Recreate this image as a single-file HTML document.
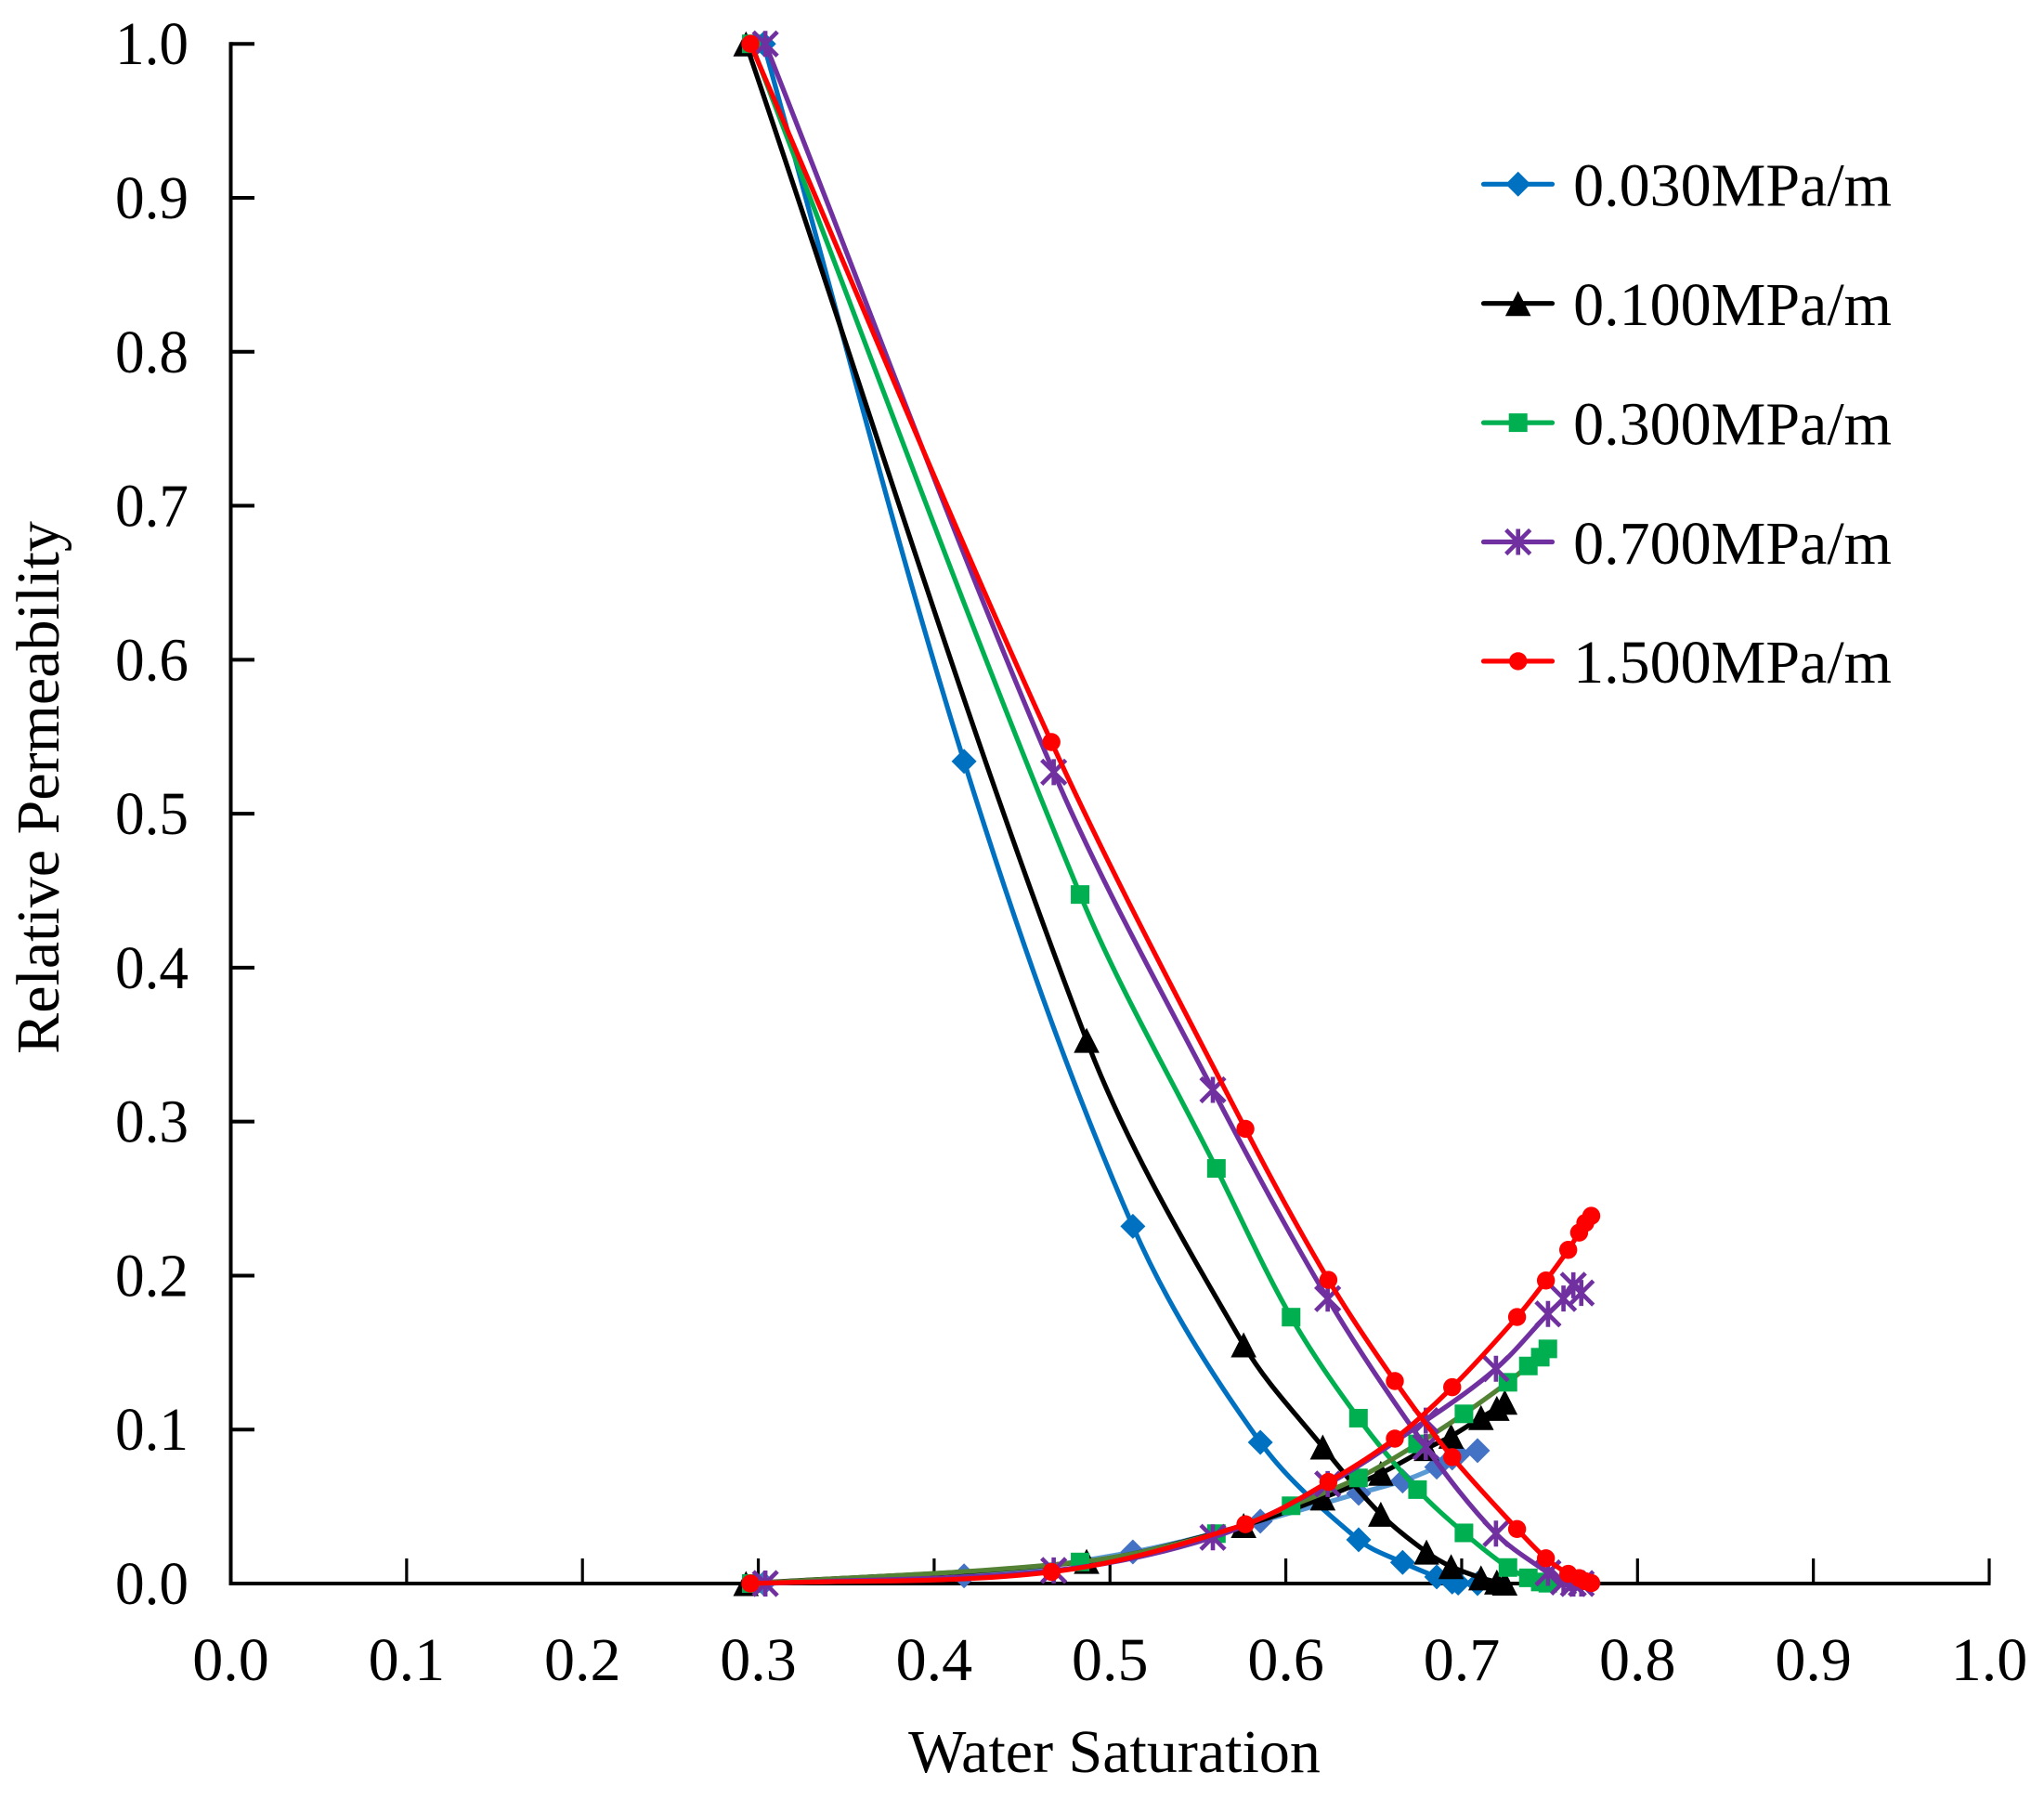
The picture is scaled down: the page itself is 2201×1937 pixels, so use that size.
<!DOCTYPE html>
<html lang="en">
<head>
<meta charset="utf-8">
<title>Relative Permeability vs Water Saturation</title>
<style>
html,body{margin:0;padding:0;background:#fff;}
svg{display:block;}
text{font-family:"Liberation Serif",serif;font-size:66px;fill:#000;}
</style>
</head>
<body>
<svg id="chart" xmlns="http://www.w3.org/2000/svg" width="2201" height="1937" viewBox="0 0 2201 1937">
<rect x="0" y="0" width="2201" height="1937" fill="#ffffff"/>
<g id="axes"></g>
<g id="series"></g>
<g id="legend"></g>
<text x="1200" y="1908" text-anchor="middle">Water Saturation</text>
<text x="63" y="848" text-anchor="middle" transform="rotate(-90 63 848)">Relative Permeability</text>
</svg>
<script>
// Axis ticks
const xTickLabels = ['0.0','0.1','0.2','0.3','0.4','0.5','0.6','0.7','0.8','0.9','1.0'];
const yTickLabels = ['0.0','0.1','0.2','0.3','0.4','0.5','0.6','0.7','0.8','0.9','1.0'];

// 0.030 MPa/m
const swBlue = [0.303,0.417,0.513,0.5855,0.6414,0.6664,0.6858,0.6946,0.698,0.709];
const oilBlue = [1.0,0.534,0.232,0.0917,0.0284,0.0137,0.0043,0.001,0.0003,0.0];
const waterBlue = [0.0,0.005,0.0205,0.0405,0.0586,0.0666,0.0756,0.0815,0.0837,0.0863];

// 0.100 MPa/m
const swBlack = [0.293,0.4867,0.576,0.621,0.654,0.68,0.694,0.711,0.72,0.7245];
const oilBlack = [1.0,0.3528,0.155,0.0887,0.045,0.0204,0.011,0.0037,0.001,0.0003];
const waterBlack = [0.0,0.0144,0.0377,0.0556,0.0716,0.0877,0.0957,0.1078,0.1138,0.1178];

// 0.300 MPa/m
const swGreen = [0.296,0.483,0.5605,0.603,0.6413,0.6749,0.7013,0.7263,0.7379,0.7447,0.749];
const oilGreen = [1.0,0.4475,0.2696,0.173,0.1074,0.061,0.0329,0.0104,0.0037,0.001,0.0002];
const waterGreen = [0.0,0.014,0.0324,0.0505,0.0686,0.0907,0.1102,0.1307,0.1413,0.147,0.1524];

// 0.700 MPa/m
const swPurple = [0.304,0.468,0.5585,0.6238,0.6796,0.7195,0.7491,0.7579,0.7635,0.768];
const oilPurple = [1.0,0.527,0.3206,0.185,0.0887,0.0324,0.0069,0.001,0.0,0.0];
const waterPurple = [0.0,0.0085,0.03,0.0646,0.1058,0.1395,0.1751,0.1851,0.1937,0.1887];

// 1.500 MPa/m
const swRed = [0.2955,0.4667,0.577,0.6242,0.662,0.6946,0.7315,0.7479,0.7606,0.7668,0.7703,0.7737];
const oilRed = [1.0,0.5465,0.2953,0.1972,0.1315,0.0821,0.0354,0.0164,0.0063,0.0035,0.0015,0.0003];
const waterRed = [0.0,0.0075,0.0385,0.066,0.0941,0.1275,0.1731,0.1968,0.2167,0.2279,0.2342,0.2388];

const legendLabels = ['0.030MPa/m','0.100MPa/m','0.300MPa/m','0.700MPa/m','1.500MPa/m'];

const NS = 'http://www.w3.org/2000/svg';
const X0 = 248.5, X1 = 2142, Y0 = 1705, Y1 = 47.2;
function xScale(v){ return X0 + v * (X1 - X0); }
function yScale(v){ return Y0 - v * (Y0 - Y1); }

function make(tag, parent, name, attrs){
  const el = document.createElementNS(NS, tag);
  
  
  for (const k in attrs) el.setAttribute(k, attrs[k]);
  parent.appendChild(el);
  return el;
}

function tangent(a, b){
  const dx = b[0] - a[0], dy = b[1] - a[1];
  const len = Math.hypot(dx, dy) || 1;
  return [dx / len, dy / len];
}

function smoothPath(pts){
  let d = 'M' + pts[0][0].toFixed(2) + ' ' + pts[0][1].toFixed(2);
  for (let i = 0; i < pts.length - 1; i++){
    const p0 = pts[Math.max(i - 1, 0)], p1 = pts[i], p2 = pts[i + 1], p3 = pts[Math.min(i + 2, pts.length - 1)];
    const seg = Math.hypot(p2[0] - p1[0], p2[1] - p1[1]) / 3;
    const t1 = tangent(p0, p2), t2 = tangent(p1, p3);
    const c1x = p1[0] + t1[0] * seg, c1y = p1[1] + t1[1] * seg;
    const c2x = p2[0] - t2[0] * seg, c2y = p2[1] - t2[1] * seg;
    d += 'C' + c1x.toFixed(2) + ' ' + c1y.toFixed(2) + ' ' + c2x.toFixed(2) + ' ' + c2y.toFixed(2) + ' ' + p2[0].toFixed(2) + ' ' + p2[1].toFixed(2);
  }
  return d;
}

function marker(parent, kind, x, y, color, name){
  if (kind === 'diamond'){
    const r = 13.5;
    make('polygon', parent, name, {points:[x,y-r,x+r,y,x,y+r,x-r,y].join(' '), fill:color});
  } else if (kind === 'triangle'){
    make('polygon', parent, name, {points:[x,y-13.5,x+13.8,y+13.5,x-13.8,y+13.5].join(' '), fill:color});
  } else if (kind === 'square'){
    make('rect', parent, name, {x:x-10, y:y-10, width:20, height:20, fill:color});
  } else if (kind === 'circle'){
    make('circle', parent, name, {cx:x, cy:y, r:9.7, fill:color});
  } else {
    const a = 14, b = 13;
    const d = 'M'+x+' '+(y-a)+'L'+x+' '+(y+a)+'M'+(x-b)+' '+(y-b)+'L'+(x+b)+' '+(y+b)+'M'+(x-b)+' '+(y+b)+'L'+(x+b)+' '+(y-b);
    make('path', parent, name, {d:d, stroke:color, 'stroke-width':4.6, fill:'none'});
  }
}

function drawCurve(parent, name, xs, ys, lineColor, markerColor, kind){
  const g = make('g', parent, name, {});
  const pts = xs.map(function(v, i){ return [xScale(v), yScale(ys[i])]; });
  make('path', g, name + '-line', {d:smoothPath(pts), fill:'none', stroke:lineColor, 'stroke-width':5.2, 'stroke-linejoin':'round'});
  pts.forEach(function(p){ marker(g, kind, p[0], p[1], markerColor, name + '-point'); });
}

const axes = document.getElementById('axes');
make('line', axes, 'y-axis-line', {x1:X0, y1:Y1-2, x2:X0, y2:Y0+2, stroke:'#000', 'stroke-width':4});
make('line', axes, 'x-axis-line', {x1:X0-2, y1:Y0, x2:X1+1.5, y2:Y0, stroke:'#000', 'stroke-width':4});
yTickLabels.forEach(function(label){
  const v = parseFloat(label), y = yScale(v);
  if (v > 0) make('line', axes, 'y-tick', {x1:X0, y1:y, x2:274, y2:y, stroke:'#000', 'stroke-width':4});
  const t = make('text', axes, 'y-tick-label', {x:203, y:y+22, 'text-anchor':'end', textLength:79, lengthAdjust:'spacingAndGlyphs'});
  t.textContent = label;
});
xTickLabels.forEach(function(label){
  const v = parseFloat(label), x = xScale(v);
  if (v > 0) make('line', axes, 'x-tick', {x1:x, y1:Y0, x2:x, y2:Y0-27, stroke:'#000', 'stroke-width':3.2});
  const t = make('text', axes, 'x-tick-label', {x:x, y:1809, 'text-anchor':'middle'});
  t.textContent = label;
});

const series = document.getElementById('series');
drawCurve(series, 'oil-curve-0-030', swBlue, oilBlue, '#0070C0', '#0070C0', 'diamond');
drawCurve(series, 'water-curve-0-030', swBlue, waterBlue, '#5B9BD5', '#4472C4', 'diamond');
drawCurve(series, 'oil-curve-0-100', swBlack, oilBlack, '#000000', '#000000', 'triangle');
drawCurve(series, 'water-curve-0-100', swBlack, waterBlack, '#000000', '#000000', 'triangle');
drawCurve(series, 'oil-curve-0-300', swGreen, oilGreen, '#00B050', '#00B050', 'square');
drawCurve(series, 'water-curve-0-300', swGreen, waterGreen, '#548235', '#00B050', 'square');
drawCurve(series, 'oil-curve-0-700', swPurple, oilPurple, '#7030A0', '#7030A0', 'star');
drawCurve(series, 'water-curve-0-700', swPurple, waterPurple, '#7030A0', '#7030A0', 'star');
drawCurve(series, 'oil-curve-1-500', swRed, oilRed, '#FF0000', '#FF0000', 'circle');
drawCurve(series, 'water-curve-1-500', swRed, waterRed, '#FF0000', '#FF0000', 'circle');

const legend = document.getElementById('legend');
const legendColors = ['#0070C0','#000000','#00B050','#7030A0','#FF0000'];
const legendKinds = ['diamond','triangle','square','star','circle'];
legendLabels.forEach(function(label, i){
  const y = 198.3 + i * 128.4;
  const g = make('g', legend, 'legend-entry', {});
  make('line', g, 'legend-line', {x1:1597.5, y1:y, x2:1671.5, y2:y, stroke:legendColors[i], 'stroke-width':5.2, 'stroke-linecap':'round'});
  marker(g, legendKinds[i], 1634.7, y, legendColors[i], 'legend-marker');
  const t = make('text', g, 'legend-label', {x:2037, y:y+23.3, 'text-anchor':'end'});
  t.textContent = label;
});
</script>
</body>
</html>
